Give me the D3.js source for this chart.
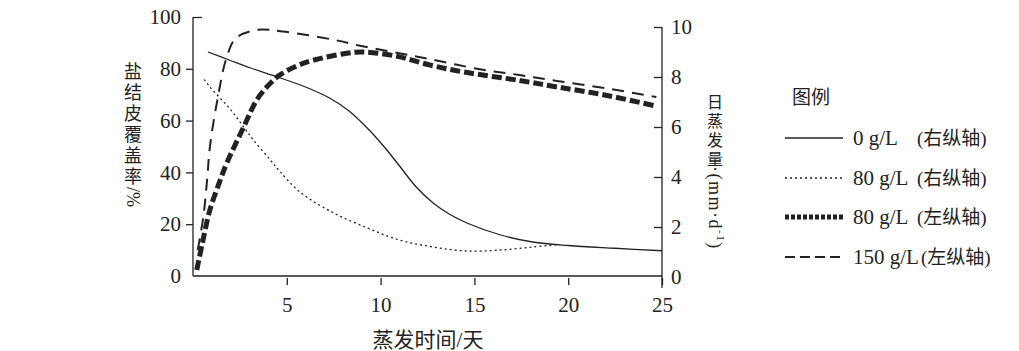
<!DOCTYPE html>
<html>
<head>
<meta charset="utf-8">
<script src="https://cdn.jsdelivr.net/npm/d3@7"></script>
<style>
  body { margin: 0; background: #fff; }
  svg { display: block; }
  text { font-family: "Liberation Serif", "Noto Sans CJK SC", serif; fill: #222; }
  .axis path, .axis line { stroke: #222; stroke-width: 1.3; }
</style>
</head>
<body>
<svg id="chart" width="1019" height="351"></svg>
<script>
// days + values
const solidDays = [0.8, 2, 3, 4.5, 6, 7.3, 8.3, 9.3, 10.2, 11, 11.9, 12.8, 13.7, 14.6, 16.4, 18.1, 20, 22.5, 25];
const solidVals = [9.0, 8.66, 8.38, 8.0, 7.6, 7.15, 6.65, 5.95, 5.2, 4.45, 3.6, 2.96, 2.5, 2.16, 1.68, 1.4, 1.26, 1.15, 1.05];   // 0 g/L, right axis

const dotDays = [0.6, 0.9, 2.0, 2.7, 3.2, 4.1, 4.6, 5.7, 7.5, 9.3, 11, 12.8, 14.6, 16.4, 18.1, 19.5];
const dotVals = [7.9, 7.6, 6.7, 6.0, 5.5, 4.7, 4.25, 3.4, 2.56, 1.96, 1.48, 1.2, 1.04, 1.08, 1.2, 1.3];   // 80 g/L, right axis

const thickDays = [0.2, 0.5, 0.9, 1.45, 1.8, 2.7, 3.4, 4.0, 4.6, 5.5, 6.4, 8.2, 9.1, 10.9, 12.6, 14.4, 17.4, 19.4, 22, 24.7];
const thickVals = [2.3, 12.7, 25.5, 37, 43.6, 57.5, 68, 73.5, 77.5, 81, 83.3, 86, 86.5, 84.8, 81.5, 78.8, 75.5, 73, 69.8, 65.6];   // 80 g/L, left axis

const dashDays = [0.25, 0.55, 0.75, 0.9, 1.3, 1.8, 2.3, 3.4, 4.8, 7.5, 8.9, 11, 12.6, 15.3, 17.4, 19.4, 22, 24.7];
const dashVals = [10, 22.8, 37, 49.8, 68, 84.6, 91.9, 95, 94.4, 91.2, 88.9, 86, 83.8, 79.8, 77.6, 75.3, 72.5, 69.1];   // 150 g/L, left axis

const xTicks = [5, 10, 15, 20, 25];
const leftTicks = [0, 20, 40, 60, 80, 100];
const rightTicks = [0, 2, 4, 6, 8, 10];

const legendNames = ["0 g/L", "80 g/L", "80 g/L", "150 g/L"];
const legendNotes = ["(右纵轴)", "(右纵轴)", "(左纵轴)", "(左纵轴)"];

const svg = d3.select("#chart");

const x = d3.scaleLinear().domain([0, 25]).range([193, 662]);
const yL = d3.scaleLinear().domain([0, 100]).range([276, 17]);
const yR = d3.scaleLinear().domain([0, 10]).range([277, 27]);

// styles per series
const styles = [
  { w: 1.3, dash: null },
  { w: 1.3, dash: "2,3" },
  { w: 5, dash: "10,4" },
  { w: 2, dash: "12,8" }
];
const legendDash = [null, "2,3", "4,2", "10,5"];

const series = [
  { days: solidDays, vals: solidVals, y: yR },
  { days: dotDays, vals: dotVals, y: yR },
  { days: thickDays, vals: thickVals, y: yL },
  { days: dashDays, vals: dashVals, y: yL }
];

// axes
const gx = svg.append("g").attr("class", "axis")
  .attr("transform", "translate(0,276)")
  .call(d3.axisBottom(x).tickValues(xTicks).tickSize(9).tickSizeOuter(0).tickPadding(12));
gx.select(".domain").attr("d", "M193,0H662");
gx.selectAll(".tick line").attr("y1", 2);
gx.selectAll(".tick text").attr("font-size", 21);

const gl = svg.append("g").attr("class", "axis")
  .attr("transform", "translate(193,0)")
  .call(d3.axisLeft(yL).tickValues(leftTicks).tickSize(6).tickSizeOuter(0).tickPadding(6));
gl.select(".domain").attr("d", "M0,17V276");
gl.selectAll(".tick line").attr("x2", d => d === 100 ? 9 : (d === 0 ? 0 : -7)).attr("x1", 0);
gl.selectAll(".tick text").attr("font-size", 21);

const gr = svg.append("g").attr("class", "axis")
  .attr("transform", "translate(662,0)")
  .call(d3.axisRight(yR).tickValues(rightTicks).tickSize(0).tickPadding(9));
gr.select(".domain").attr("d", "M0,27V288");
gr.selectAll(".tick line").attr("x2", d => d === 0 ? 0 : -8);
gr.selectAll(".tick text").attr("font-size", 21);

// curves
const line = yScale => d3.line()
  .x(d => x(d[0]))
  .y(d => yScale(d[1]))
  .curve(d3.curveCatmullRom.alpha(0.5));

series.forEach((s, i) => {
  const pts = s.days.map((d, j) => [d, s.vals[j]]);
  svg.append("path")
    .datum(pts)
    .attr("fill", "none")
    .attr("stroke", "#222")
    .attr("stroke-width", styles[i].w)
    .attr("stroke-dasharray", styles[i].dash)
    .attr("d", line(s.y));
});

// left axis title, stacked characters
const leftChars = ["盐", "结", "皮", "覆", "盖", "率"];
svg.append("g").selectAll("text")
  .data(leftChars).join("text")
  .attr("x", 133).attr("y", (d, i) => 72 + i * 21)
  .attr("text-anchor", "middle").attr("dominant-baseline", "central")
  .attr("font-size", 18).text(d => d);
svg.append("text")
  .attr("transform", "translate(133,187) rotate(90)")
  .attr("dominant-baseline", "central")
  .attr("font-size", 18).text("/%");

// right axis title
const rightChars = ["日", "蒸", "发", "量"];
svg.append("g").selectAll("text")
  .data(rightChars).join("text")
  .attr("x", 715).attr("y", (d, i) => 102 + i * 19)
  .attr("text-anchor", "middle").attr("dominant-baseline", "central")
  .attr("font-size", 16).text(d => d);
const rt = svg.append("text")
  .attr("transform", "translate(715,166) rotate(90)")
  .attr("dominant-baseline", "central")
  .attr("font-size", 18)
  .attr("letter-spacing", 1.5);
rt.append("tspan").text("·(mm·d");
rt.append("tspan").attr("font-size", 11).attr("dy", -6).text("-1");
rt.append("tspan").attr("dy", 6).text(")");

// x axis title
svg.append("text")
  .attr("x", 428).attr("y", 340)
  .attr("text-anchor", "middle").attr("dominant-baseline", "central")
  .attr("font-size", 21).text("蒸发时间/天");

// legend
svg.append("text")
  .attr("x", 792).attr("y", 97)
  .attr("dominant-baseline", "central")
  .attr("font-size", 19).text("图例");

const rowY = [138, 178, 217, 257];
legendNames.forEach((name, i) => {
  svg.append("line")
    .attr("x1", 785).attr("x2", 843)
    .attr("y1", rowY[i]).attr("y2", rowY[i])
    .attr("stroke", "#222")
    .attr("stroke-width", styles[i].w)
    .attr("stroke-dasharray", legendDash[i]);
  const t = svg.append("text")
    .attr("x", 853).attr("y", rowY[i])
    .attr("dominant-baseline", "central")
    .attr("font-size", 21).text(name);
  const end = 853 + t.node().getComputedTextLength();
  svg.append("text")
    .attr("x", Math.max(917, end + 2)).attr("y", rowY[i])
    .attr("dominant-baseline", "central")
    .attr("font-size", 19).text(legendNotes[i]);
});
</script>
</body>
</html>
